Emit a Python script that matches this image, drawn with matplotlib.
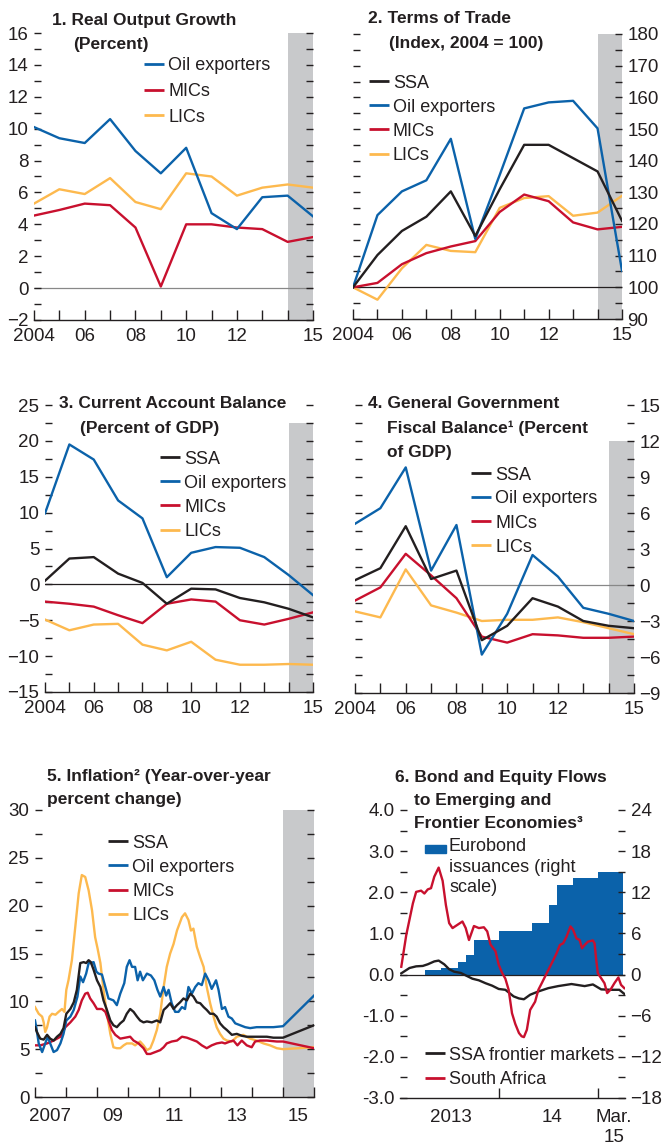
import matplotlib
matplotlib.use('Agg')
import matplotlib.pyplot as plt
from matplotlib.lines import Line2D
from matplotlib.patches import Rectangle
from matplotlib.ticker import MultipleLocator, FixedLocator, FixedFormatter, FormatStrFormatter

plt.rcParams['font.family'] = ['Liberation Sans', 'DejaVu Sans']

# ---- annual data (2004-2015) ----
years = list(range(2004, 2016))
year_labels = ['2004', '', '06', '', '08', '', '10', '', '12', '', '', '15']

# 1. real output growth
growth_oil = [10.1, 9.4, 9.1, 10.6, 8.6, 7.2, 8.8, 4.7, 3.7, 5.7, 5.8, 4.5]
growth_mic = [4.55, 4.9, 5.3, 5.2, 3.8, 0.1, 4.0, 4.0, 3.8, 3.7, 2.9, 3.2]
growth_lic = [5.3, 6.2, 5.9, 6.9, 5.4, 4.95, 7.2, 7.0, 5.8, 6.3, 6.5, 6.3]

# 2. terms of trade
tot_ssa = [100, 110.2, 117.8, 122.3, 130.3, 116.2, 131.0, 145.0, 145.0, 140.8, 136.6, 121.0]
tot_oil = [100, 122.8, 130.3, 133.8, 146.9, 115.3, 135.5, 156.5, 158.4, 158.9, 150.2, 105.2]
tot_mic = [100, 101.4, 107.3, 110.8, 112.9, 114.6, 123.8, 129.3, 127.2, 120.5, 118.3, 119.1]
tot_lic = [100, 96.1, 106.0, 113.4, 111.5, 111.1, 125.1, 128.2, 128.8, 122.6, 123.6, 128.9]

# 3. current account balance
ca_ssa = [0.5, 3.6, 3.8, 1.5, 0.2, -2.7, -0.6, -0.7, -1.9, -2.5, -3.4, -4.6]
ca_oil = [9.9, 19.5, 17.4, 11.7, 9.2, 1.0, 4.4, 5.2, 5.1, 3.8, 1.3, -1.5]
ca_mic = [-2.4, -2.7, -3.1, -4.3, -5.4, -2.7, -2.1, -2.4, -5.0, -5.6, -4.8, -3.9]
ca_lic = [-4.9, -6.4, -5.6, -5.5, -8.4, -9.2, -8.0, -10.5, -11.2, -11.2, -11.1, -11.2]

# 4. general government fiscal balance
fb_ssa = [0.4, 1.4, 4.9, 0.5, 1.2, -4.6, -3.4, -1.1, -1.8, -3.0, -3.4, -3.6]
fb_oil = [5.1, 6.4, 9.8, 1.2, 5.0, -5.8, -2.4, 2.5, 0.7, -1.9, -2.4, -3.0]
fb_mic = [-1.3, -0.2, 2.6, 0.8, -1.1, -4.3, -4.8, -4.1, -4.2, -4.4, -4.4, -4.3]
fb_lic = [-2.2, -2.7, 1.3, -1.7, -2.3, -3.0, -2.9, -2.9, -2.7, -3.1, -3.6, -4.1]

# ---- 5. inflation (monthly) ----
inf_lic_t = [2007.0, 2007.12, 2007.23, 2007.28, 2007.33, 2007.39, 2007.47, 2007.55, 2007.66, 2007.76,
             2007.87, 2007.95, 2008.01, 2008.08, 2008.19, 2008.30, 2008.41, 2008.51, 2008.62, 2008.73,
             2008.84, 2008.94, 2009.02, 2009.11, 2009.21, 2009.32, 2009.43, 2009.53, 2009.64, 2009.75,
             2009.86, 2009.96, 2010.13, 2010.23, 2010.39, 2010.50, 2010.61, 2010.72, 2010.82, 2010.93,
             2011.04, 2011.15, 2011.25, 2011.36, 2011.47, 2011.58, 2011.74, 2011.84, 2011.95, 2012.03,
             2012.11, 2012.22, 2012.33, 2012.44, 2012.54, 2012.65, 2012.76, 2012.86, 2012.97, 2013.08,
             2013.19, 2013.35, 2013.51, 2013.72, 2013.94, 2014.15, 2014.37, 2014.58, 2014.80, 2015.0,
             2016.0]
inf_lic = [9.4, 8.7, 8.4, 7.8, 6.8, 7.3, 8.4, 8.7, 8.6, 8.9,
           9.2, 8.9, 11.2, 12.2, 14.3, 17.8, 21.3, 23.2, 23.0, 21.6,
           19.5, 16.7, 15.5, 14.0, 11.2, 8.7, 6.6, 5.2, 5.1, 5.1,
           5.4, 5.6, 5.6, 5.4, 5.8, 5.4, 4.9, 5.1, 5.9, 7.0,
           8.7, 11.5, 13.6, 15.0, 16.0, 17.4, 18.8, 19.2, 18.5, 17.4,
           17.6, 15.7, 14.6, 13.6, 11.5, 9.8, 8.4, 7.3, 6.6, 6.1,
           5.9, 5.8, 6.3, 6.5, 6.1, 5.9, 5.6, 5.4, 5.1, 5.0,
           5.2]

inf_oil_t = [2007.0, 2007.04, 2007.12, 2007.23, 2007.33, 2007.41, 2007.49, 2007.60, 2007.71, 2007.82,
             2007.92, 2008.01, 2008.14, 2008.25, 2008.37, 2008.46, 2008.55, 2008.65, 2008.73, 2008.80,
             2008.89, 2008.98, 2009.05, 2009.16, 2009.27, 2009.37, 2009.53, 2009.64, 2009.75, 2009.88,
             2009.96, 2010.05, 2010.13, 2010.23, 2010.31, 2010.39, 2010.48, 2010.61, 2010.74, 2010.85,
             2010.95, 2011.04, 2011.15, 2011.23, 2011.31, 2011.41, 2011.52, 2011.63, 2011.74, 2011.84,
             2011.95, 2012.06, 2012.17, 2012.27, 2012.38, 2012.49, 2012.60, 2012.70, 2012.84, 2012.92,
             2013.03, 2013.13, 2013.24, 2013.35, 2013.46, 2013.62, 2013.78, 2013.94, 2014.15, 2014.37,
             2014.69, 2015.0, 2016.0]
inf_oil = [8.0, 7.3, 5.6, 4.7, 5.6, 6.3, 5.6, 4.7, 4.9, 5.6,
           6.6, 8.0, 8.4, 9.1, 10.5, 12.6, 12.0, 12.9, 14.0, 14.0,
           14.1, 13.1, 12.9, 12.8, 11.5, 10.3, 10.1, 9.6, 10.8, 11.9,
           13.6, 14.3, 13.6, 13.6, 12.2, 13.1, 12.2, 12.9, 12.7, 12.2,
           11.2, 10.5, 11.5, 10.6, 11.2, 9.8, 8.9, 8.9, 9.4, 9.2,
           11.5, 10.8, 11.5, 11.9, 11.7, 12.9, 12.2, 11.3, 12.2, 11.2,
           9.2, 9.4, 8.4, 8.2, 7.7, 7.5, 7.3, 7.2, 7.3, 7.3,
           7.3, 7.4, 10.6]

inf_ssa_t = [2007.0, 2007.06, 2007.17, 2007.28, 2007.39, 2007.49, 2007.60, 2007.71, 2007.82, 2007.92,
             2008.01, 2008.14, 2008.25, 2008.35, 2008.46, 2008.57, 2008.65, 2008.73, 2008.80, 2008.89,
             2009.00, 2009.11, 2009.21, 2009.32, 2009.43, 2009.53, 2009.64, 2009.75, 2009.86, 2009.96,
             2010.07, 2010.18, 2010.29, 2010.39, 2010.50, 2010.61, 2010.77, 2010.93, 2011.04, 2011.15,
             2011.25, 2011.36, 2011.47, 2011.58, 2011.68, 2011.79, 2011.90, 2012.01, 2012.11, 2012.22,
             2012.33, 2012.44, 2012.54, 2012.65, 2012.76, 2012.86, 2012.97, 2013.08, 2013.19, 2013.35,
             2013.51, 2013.67, 2013.83, 2014.05, 2014.26, 2014.48, 2014.69, 2015.0, 2016.0]
inf_ssa = [7.3, 6.8, 6.1, 6.0, 6.5, 6.1, 5.9, 6.3, 6.6, 7.2,
           8.7, 9.2, 9.9, 11.2, 14.0, 14.1, 14.0, 14.3, 14.1, 13.3,
           12.2, 11.5, 10.1, 9.1, 8.0, 7.5, 7.3, 7.7, 8.0, 8.7,
           9.2, 8.9, 8.4, 8.0, 7.8, 7.9, 7.8, 8.0, 7.8, 9.1,
           9.4, 9.8, 9.2, 9.6, 9.9, 10.3, 10.1, 10.8, 10.5, 9.9,
           9.8, 9.4, 9.1, 8.7, 8.7, 8.4, 7.7, 7.3, 7.0, 6.5,
           6.6, 6.4, 6.3, 6.3, 6.3, 6.3, 6.2, 6.2, 7.5]

inf_mic_t = [2007.0, 2007.17, 2007.39, 2007.60, 2007.82, 2007.98, 2008.14, 2008.30, 2008.41, 2008.51,
             2008.62, 2008.70, 2008.78, 2008.89, 2009.00, 2009.16, 2009.27, 2009.37, 2009.48, 2009.59,
             2009.75, 2009.91, 2010.07, 2010.18, 2010.34, 2010.50, 2010.61, 2010.72, 2010.88, 2011.04,
             2011.15, 2011.25, 2011.41, 2011.58, 2011.74, 2011.90, 2012.06, 2012.22, 2012.38, 2012.54,
             2012.70, 2012.86, 2013.03, 2013.13, 2013.29, 2013.40, 2013.53, 2013.67, 2013.83, 2013.99,
             2014.10, 2014.26, 2014.48, 2014.80, 2015.0, 2016.0]
inf_mic = [5.4, 5.4, 5.6, 5.9, 6.3, 7.3, 7.8, 8.4, 9.1, 10.1,
           10.8, 10.9, 10.3, 9.8, 9.2, 9.2, 8.9, 8.0, 7.0, 6.5,
           6.1, 6.2, 6.3, 5.9, 5.6, 5.1, 4.5, 4.5, 4.7, 4.9,
           5.2, 5.6, 5.8, 5.9, 6.3, 6.2, 6.0, 5.8, 5.4, 5.1,
           5.4, 5.6, 5.7, 5.6, 5.8, 5.9, 5.4, 5.9, 5.4, 5.2,
           5.8, 5.9, 5.9, 5.8, 5.8, 5.1]

# ---- 6. bond and equity flows (weekly) ----
ssa_fm_t = [2013.013, 2013.096, 2013.163, 2013.23, 2013.28, 2013.346, 2013.39, 2013.446, 2013.496, 2013.546,
            2013.613, 2013.663, 2013.73, 2013.796, 2013.863, 2013.93, 2013.996, 2014.063, 2014.146, 2014.2,
            2014.25, 2014.313, 2014.396, 2014.496, 2014.596, 2014.73, 2014.863, 2014.946, 2015.03, 2015.13,
            2015.213, 2015.263]
ssa_fm = [0.03, 0.16, 0.2, 0.21, 0.25, 0.32, 0.34, 0.25, 0.13, 0.07,
          0.04, -0.02, -0.1, -0.14, -0.21, -0.27, -0.35, -0.37, -0.53, -0.58,
          -0.6, -0.49, -0.41, -0.33, -0.28, -0.23, -0.28, -0.24, -0.36, -0.37,
          -0.37, -0.47]

sa_t = [2013.013, 2013.063, 2013.13, 2013.163, 2013.213, 2013.246, 2013.28, 2013.313, 2013.346, 2013.39,
        2013.43, 2013.463, 2013.496, 2013.53, 2013.58, 2013.63, 2013.663, 2013.696, 2013.746, 2013.796,
        2013.846, 2013.88, 2013.913, 2013.963, 2013.996, 2014.03, 2014.063, 2014.096, 2014.13, 2014.163,
        2014.2, 2014.227, 2014.25, 2014.28, 2014.313, 2014.363, 2014.396, 2014.43, 2014.463, 2014.496,
        2014.546, 2014.58, 2014.613, 2014.646, 2014.68, 2014.72, 2014.746, 2014.78, 2014.813, 2014.836,
        2014.863, 2014.896, 2014.946, 2014.963, 2014.98, 2014.996, 2015.03, 2015.063, 2015.09, 2015.123,
        2015.163, 2015.203, 2015.23, 2015.263]
sa = [0.19, 0.96, 1.73, 2.01, 2.04, 1.97, 2.07, 2.1, 2.38, 2.6,
      2.28, 1.69, 1.25, 1.13, 1.21, 1.29, 1.13, 0.84, 1.18, 1.13,
      1.15, 1.05, 0.73, 0.57, 0.24, 0.04, -0.1, -0.37, -0.94, -1.2,
      -1.42, -1.5, -1.52, -1.34, -0.86, -0.66, -0.37, -0.21, -0.05, 0.11,
      0.35, 0.52, 0.72, 0.76, 0.92, 1.17, 1.09, 0.88, 0.84, 0.64,
      0.72, 0.80, 0.83, 0.76, 0.35, 0.03, -0.09, -0.21, -0.45, -0.37,
      -0.21, -0.07, -0.25, -0.33]

# cumulative Eurobond issuance (right scale), months counted from Jan 2013
euro_month = list(range(3, 27))
euro_value = [0.6, 0.6, 0.9, 0.9, 1.9, 2.9, 5.0, 5.0, 5.0, 6.4, 6.4, 6.4,
              6.4, 7.5, 7.5, 10.2, 13.1, 13.1, 14.1, 14.1, 14.1, 15.0, 15.0, 15.0]

# ---- style ----
BLUE = '#0B62AA'
RED = '#C8102E'
ORANGE = '#FDB94E'
BLACK = '#231F20'
SHADE = '#C8C9CB'
FS = 13.5      # tick labels
FS_LEG = 13    # legend text
FS_T = 12.5    # panel titles
LW = 1.7

W, H = 664, 1148
fig = plt.figure(figsize=(W / 100, H / 100), dpi=100)


def add_ax(l, t, r, b):
    return fig.add_axes([l / W, 1 - b / H, (r - l) / W, (b - t) / H])


def style(ax, ylim, major, minor, side):
    ax.set_ylim(*ylim)
    for s in ['top', 'left', 'right']:
        ax.spines[s].set_visible(False)
    ax.spines['bottom'].set_color(BLACK)
    ax.spines['bottom'].set_linewidth(1.0)
    ax.yaxis.set_major_locator(MultipleLocator(major))
    ax.yaxis.set_minor_locator(MultipleLocator(minor))
    ax.tick_params(axis='y', which='both', direction='in', length=5, width=1, color=BLACK,
                   left=True, right=True, labelleft=(side == 'left'),
                   labelright=(side == 'right'), labelsize=FS, labelcolor=BLACK, pad=4)
    ax.tick_params(axis='x', which='major', direction='in', length=7, width=1, color=BLACK,
                   labelsize=FS, labelcolor=BLACK, pad=6)


def annual(ax):
    ax.set_xlim(2004, 2015)
    ax.xaxis.set_major_locator(FixedLocator(years))
    ax.xaxis.set_major_formatter(FixedFormatter(year_labels))


def title(x, y, lines):
    for (dx, dy, s) in lines:
        fig.text((x + dx) / W, 1 - (y + dy) / H, s, fontsize=FS_T, fontweight='bold',
                 color=BLACK, va='baseline', ha='left')


def legend_lines(x, y, items, step):
    for i, (label, color) in enumerate(items):
        yy = 1 - (y + i * step) / H
        fig.add_artist(Line2D([x / W, (x + 20) / W], [yy, yy], color=color, lw=2.0,
                              solid_capstyle='butt', transform=fig.transFigure))
        fig.text((x + 24) / W, yy, label, fontsize=FS_LEG, color=BLACK,
                 va='center_baseline', ha='left')


# Panel 1
ax1 = add_ax(34, 33, 313, 320)
style(ax1, (-2, 16), 2, 1, 'left')
annual(ax1)
ax1.axvspan(2014, 2015, color=SHADE, lw=0, zorder=0)
ax1.axhline(0, color='#888888', lw=0.9, zorder=1)
ax1.plot(years, growth_lic, color=ORANGE, lw=LW)
ax1.plot(years, growth_mic, color=RED, lw=LW)
ax1.plot(years, growth_oil, color=BLUE, lw=LW)
title(52, 25, [(0, 0, '1. Real Output Growth'), (21, 24, '(Percent)')])
legend_lines(144, 64, [('Oil exporters', BLUE), ('MICs', RED), ('LICs', ORANGE)], 25.5)

# Panel 2
ax2 = add_ax(353, 34, 622, 319)
style(ax2, (90, 180), 10, 5, 'right')
annual(ax2)
ax2.axvspan(2014, 2015, color=SHADE, lw=0, zorder=0)
ax2.axhline(100, color=BLACK, lw=0.9, zorder=1)
ax2.plot(years, tot_lic, color=ORANGE, lw=LW)
ax2.plot(years, tot_mic, color=RED, lw=LW)
ax2.plot(years, tot_oil, color=BLUE, lw=LW)
ax2.plot(years, tot_ssa, color=BLACK, lw=LW)
title(368, 23, [(0, 0, '2. Terms of Trade'), (21, 25, '(Index, 2004 = 100)')])
legend_lines(369, 81, [('SSA', BLACK), ('Oil exporters', BLUE), ('MICs', RED), ('LICs', ORANGE)], 24.2)

# Panel 3
ax3 = add_ax(45, 405, 313, 692)
style(ax3, (-15, 25), 5, 2.5, 'left')
annual(ax3)
ax3.axvspan(2014, 2015, ymin=0, ymax=37.5 / 40, color=SHADE, lw=0, zorder=0)
ax3.axhline(0, color=BLACK, lw=0.9, zorder=1)
ax3.plot(years, ca_lic, color=ORANGE, lw=LW)
ax3.plot(years, ca_mic, color=RED, lw=LW)
ax3.plot(years, ca_oil, color=BLUE, lw=LW)
ax3.plot(years, ca_ssa, color=BLACK, lw=LW)
title(59, 408, [(0, 0, '3. Current Account Balance'), (21, 25, '(Percent of GDP)')])
legend_lines(160, 457, [('SSA', BLACK), ('Oil exporters', BLUE), ('MICs', RED), ('LICs', ORANGE)], 24.2)

# Panel 4
ax4 = add_ax(355, 405, 634, 693)
style(ax4, (-9, 15), 3, 1.5, 'right')
annual(ax4)
ax4.axvspan(2014, 2015, ymin=0, ymax=21 / 24, color=SHADE, lw=0, zorder=0)
ax4.axhline(0, color='#888888', lw=0.9, zorder=1)
ax4.plot(years, fb_lic, color=ORANGE, lw=LW)
ax4.plot(years, fb_mic, color=RED, lw=LW)
ax4.plot(years, fb_oil, color=BLUE, lw=LW)
ax4.plot(years, fb_ssa, color=BLACK, lw=LW)
title(368, 408, [(0, 0, '4. General Government'), (19, 25, 'Fiscal Balance\u00b9 (Percent'),
                 (19, 49, 'of GDP)')])
legend_lines(471, 473, [('SSA', BLACK), ('Oil exporters', BLUE), ('MICs', RED), ('LICs', ORANGE)], 24.0)

# Panel 5
ax5 = add_ax(35, 810, 314, 1097)
style(ax5, (0, 30), 5, 2.5, 'left')
ax5.set_xlim(2007, 2016)
ax5.xaxis.set_major_locator(FixedLocator(range(2007, 2017)))
ax5.xaxis.set_major_formatter(FixedFormatter([''] * 10))
ax5.xaxis.set_minor_locator(FixedLocator([2007.5, 2009.5, 2011.5, 2013.5, 2015.5]))
ax5.xaxis.set_minor_formatter(FixedFormatter(['2007', '09', '11', '13', '15']))
ax5.tick_params(axis='x', which='minor', length=0, labelsize=FS, labelcolor=BLACK, pad=8)
ax5.axvspan(2015, 2016, color=SHADE, lw=0, zorder=0)
ax5.plot(inf_lic_t, inf_lic, color=ORANGE, lw=LW)
ax5.plot(inf_mic_t, inf_mic, color=RED, lw=LW)
ax5.plot(inf_oil_t, inf_oil, color=BLUE, lw=LW)
ax5.plot(inf_ssa_t, inf_ssa, color=BLACK, lw=LW)
title(47, 781, [(0, 0, '5. Inflation\u00b2 (Year-over-year'), (0, 23, 'percent change)')])
legend_lines(108, 841, [('SSA', BLACK), ('Oil exporters', BLUE), ('MICs', RED), ('LICs', ORANGE)], 24.3)

# Panel 6
ax6 = add_ax(400, 810, 625, 1098)
ax6b = ax6.twinx()
style(ax6, (-3, 4), 1, 0.5, 'left')
ax6.tick_params(axis='y', which='both', right=False)
ax6.yaxis.set_major_formatter(FormatStrFormatter('%.1f'))
ax6b.set_ylim(-18, 24)
for s in ['top', 'left', 'right', 'bottom']:
    ax6b.spines[s].set_visible(False)
ax6b.yaxis.set_major_locator(MultipleLocator(6))
ax6b.yaxis.set_minor_locator(MultipleLocator(3))
ax6b.tick_params(axis='y', which='both', direction='in', length=5, width=1, color=BLACK,
                 labelsize=FS, labelcolor=BLACK, pad=4)
ax6.set_xlim(2013.0, 2015.27)
ax6.xaxis.set_major_locator(FixedLocator([2014, 2015]))
ax6.xaxis.set_major_formatter(FixedFormatter(['', '']))
ax6.xaxis.set_minor_locator(FixedLocator([2013.51, 2014.53, 2015.16]))
ax6.xaxis.set_minor_formatter(FixedFormatter(['2013', '14', 'Mar.\n15']))
ax6.tick_params(axis='x', which='minor', length=0, labelsize=FS, labelcolor=BLACK, pad=8)
ax6b.bar([2013 + m / 12 for m in euro_month], euro_value, width=1 / 12, align='edge',
         color=BLUE, lw=0)
ax6.set_zorder(ax6b.get_zorder() + 1)
ax6.patch.set_visible(False)
ax6.axhline(0, color=BLACK, lw=0.9, zorder=1)
ax6.plot(ssa_fm_t, ssa_fm, color=BLACK, lw=LW)
ax6.plot(sa_t, sa, color=RED, lw=LW)
title(395, 782, [(0, 0, '6. Bond and Equity Flows'), (19, 23, 'to Emerging and'),
                 (19, 46, 'Frontier Economies\u00b3')])
fig.add_artist(Rectangle((425 / W, 1 - 853 / H), 21 / W, 8 / H, color=BLUE,
                         transform=fig.transFigure))
fig.text(449 / W, 1 - 838 / H, 'Eurobond\nissuances (right\nscale)', fontsize=FS_LEG, color=BLACK,
         va='top', ha='left', linespacing=1.28)
legend_lines(425, 1053, [('SSA frontier markets', BLACK), ('South Africa', RED)], 25.0)

fig.savefig('out.png', dpi=100)
